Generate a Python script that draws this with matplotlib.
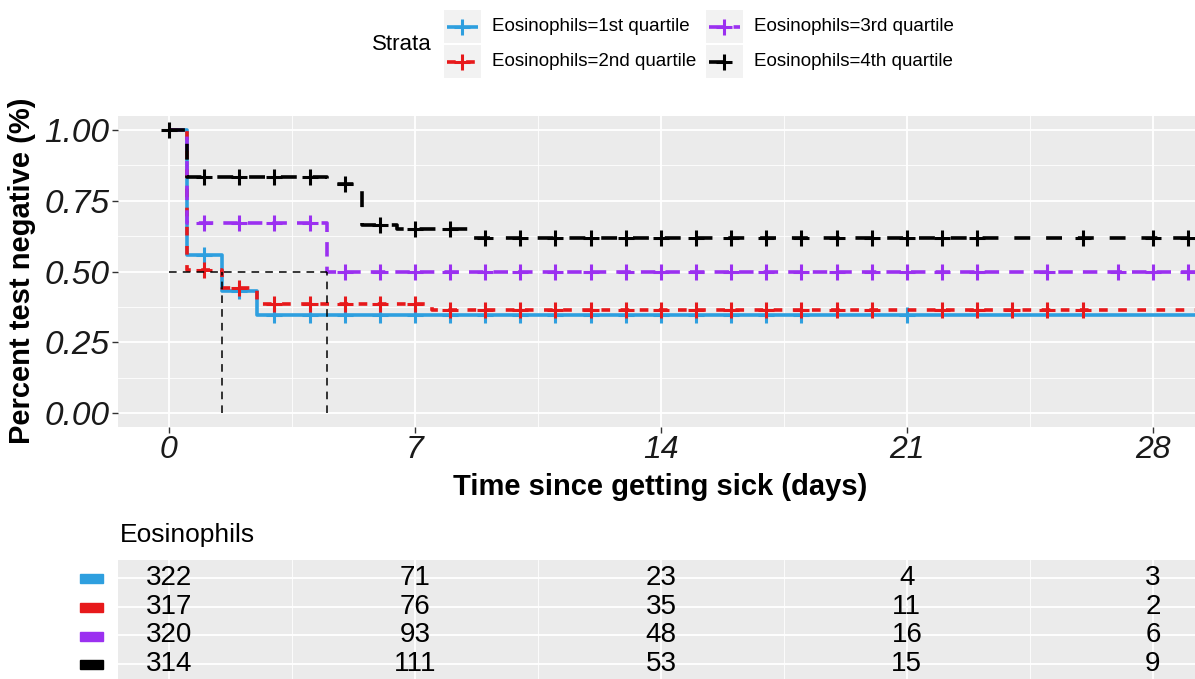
import matplotlib
matplotlib.use("Agg")
import matplotlib.pyplot as plt
from matplotlib.patches import Rectangle
from matplotlib.lines import Line2D
import numpy as np

plt.rcParams['font.family'] = ['Liberation Sans', 'DejaVu Sans']

# ---------------- data ----------------
groups = ["Eosinophils=1st quartile", "Eosinophils=2nd quartile",
          "Eosinophils=3rd quartile", "Eosinophils=4th quartile"]
colors = ["#2E9FDF", "#E7191B", "#9B30F0", "#000000"]

q1_times = [0, 0.5, 1.5, 2.5]
q1_surv = [1.0, 0.558, 0.430, 0.347]
q1_cens = list(range(1, 19)) + [21]

q2_times = [0, 0.5, 1.5, 2.5, 7.5]
q2_surv = [1.0, 0.505, 0.440, 0.385, 0.365]
q2_cens = list(range(1, 21)) + [22, 23, 24, 25, 26]

q3_times = [0, 0.5, 4.5]
q3_surv = [1.0, 0.672, 0.500]
q3_cens = list(range(1, 24)) + [25, 27, 28, 29]

q4_times = [0, 0.5, 4.5, 5.5, 6.5, 8.5]
q4_surv = [1.0, 0.835, 0.809, 0.664, 0.652, 0.617]
q4_cens = list(range(0, 24)) + [26, 28, 29]

t_end = 29.5

risk_times = [0, 7, 14, 21, 28]
risk_q1 = [322, 71, 23, 4, 3]
risk_q2 = [317, 76, 35, 11, 2]
risk_q3 = [320, 93, 48, 16, 6]
risk_q4 = [314, 111, 53, 15, 9]

median_y = 0.5
median_times = [1.5, 4.5]

x_ticks = [0, 7, 14, 21, 28]
y_ticks = [0.0, 0.25, 0.5, 0.75, 1.0]
y_ticklabels = ["0.00", "0.25", "0.50", "0.75", "1.00"]

series = [(q1_times, q1_surv, q1_cens), (q2_times, q2_surv, q2_cens),
          (q3_times, q3_surv, q3_cens), (q4_times, q4_surv, q4_cens)]
risks = [risk_q1, risk_q2, risk_q3, risk_q4]

# ---------------- styles ----------------
LW = 2.6
MS = 11
dash_styles = [None, (2.4, 2.9), (4.0, 2.8), (4.4, 4.4)]

W, H = 1195, 679
fig = plt.figure(figsize=(W / 100, H / 100), dpi=100)


def px_axes(x0, y0, x1, y1):
    return fig.add_axes([x0 / W, 1 - y1 / H, (x1 - x0) / W, (y1 - y0) / H])


XLIM = (-1.45, 29.2)
BG = "#EBEBEB"

# ---------------- main panel ----------------
ax = px_axes(118, 116, 1195, 427)
ax.set_facecolor(BG)
ax.set_xlim(*XLIM)
ax.set_ylim(-0.05, 1.05)
for s in ax.spines.values():
    s.set_visible(False)
ax.set_xticks(x_ticks)
ax.set_xticks([3.5, 10.5, 17.5, 24.5], minor=True)
ax.set_yticks(y_ticks)
ax.set_yticklabels(y_ticklabels)
ax.set_yticks([0.125, 0.375, 0.625, 0.875], minor=True)
ax.grid(which='major', color='white', lw=1.3)
ax.grid(which='minor', color='white', lw=0.6)
ax.set_axisbelow(True)
ax.tick_params(which='major', length=4, width=1, color='#333333',
               labelsize=23, labelcolor='#1a1a1a', pad=2)
ax.tick_params(axis='y', which='major', labelsize=24)
ax.tick_params(which='minor', length=0)
for lab in ax.get_xticklabels() + ax.get_yticklabels():
    lab.set_fontstyle('italic')

for i, (t, s, c) in enumerate(series):
    tt = list(t) + [t_end]
    ss = list(s) + [s[-1]]
    line, = ax.step(tt, ss, where='post', color=colors[i], lw=LW,
                    zorder=3 + i, solid_capstyle='butt', dash_capstyle='butt')
    if dash_styles[i] is not None:
        line.set_dashes(dash_styles[i])
    ct = np.array(c, dtype=float)
    idx = np.searchsorted(np.array(t), ct, side='right') - 1
    cy = np.array(s)[idx]
    ax.plot(ct, cy, ls='none', marker='+', ms=MS, mew=2.2,
            color=colors[i], zorder=3 + i)

# median lines
ax.plot([0, max(median_times)], [median_y, median_y], color='black',
        lw=1.1, ls=(0, (5, 4)), zorder=8)
for mt in median_times:
    ax.plot([mt, mt], [0, median_y], color='black', lw=1.1,
            ls=(0, (5, 4)), zorder=8)

# ---------------- risk table ----------------
tax = px_axes(118, 560, 1195, 679)
tax.set_facecolor(BG)
tax.set_xlim(*XLIM)
tax.set_ylim(0.48, 4.63)
for s in tax.spines.values():
    s.set_visible(False)
tax.set_xticks(x_ticks)
tax.set_xticks([3.5, 10.5, 17.5, 24.5], minor=True)
tax.set_yticks([1, 2, 3, 4])
tax.grid(which='major', color='white', lw=1.3)
tax.grid(which='minor', axis='x', color='white', lw=0.6)
tax.set_axisbelow(True)
tax.tick_params(which='both', length=0, labelbottom=False, labelleft=False)
for i, r in enumerate(risks):
    ypos = 4 - i
    for tm, v in zip(risk_times, r):
        tax.text(tm, ypos, str(v), ha='center', va='center', fontsize=20,
                 color='black')

# ---------------- overlay (texts, legend) ----------------
ov = fig.add_axes([0, 0, 1, 1], zorder=10)
ov.set_xlim(0, W)
ov.set_ylim(H, 0)
ov.axis('off')
ov.patch.set_alpha(0)

ov.text(22, 271, "Percent test negative (%)", rotation=90, ha='center',
        va='center', fontsize=21, fontweight='bold')
ov.text(660, 487, "Time since getting sick (days)", ha='center',
        va='center', fontsize=21, fontweight='bold')
ov.text(120, 535, "Eosinophils", ha='left', va='center', fontsize=19)

# table colour keys
row_y = [578, 607, 636, 664]
for i, yy in enumerate(row_y):
    ov.add_patch(Rectangle((80, yy - 4.5), 23, 9, color=colors[i]))

# strata legend
ov.text(372, 45, "Strata", ha='left', va='center', fontsize=16)
key_pos = [(444, 10), (444, 45), (706, 10), (706, 45)]
for i, (kx, ky) in enumerate(key_pos):
    ov.add_patch(Rectangle((kx, ky), 37, 33, color='#F2F2F2', lw=0))
    cy = ky + 16.5
    ln = Line2D([kx + 3, kx + 34], [cy, cy], color=colors[i], lw=LW,
                solid_capstyle='butt', dash_capstyle='butt')
    if dash_styles[i] is not None:
        ln.set_dashes(dash_styles[i])
    ov.add_line(ln)
    ov.plot([kx + 18.5], [cy], marker='+', ms=MS, mew=2.2, color=colors[i])
    ov.text(kx + 48, cy, groups[i], ha='left', va='center', fontsize=13.5)

fig.savefig("out.png", dpi=100)
